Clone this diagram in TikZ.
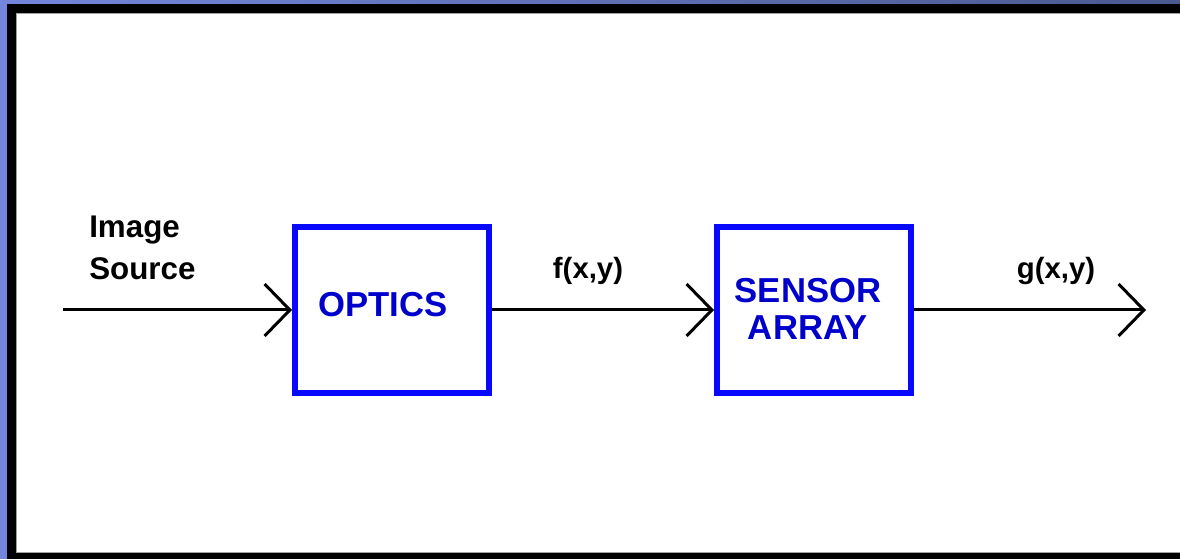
\documentclass[tikz,border=0pt]{standalone}
\usepackage{fontspec}
\setmainfont{Liberation Sans}
\usetikzlibrary{arrows.meta}
\definecolor{bgleft}{RGB}{116,134,220}
\definecolor{bgright}{RGB}{74,90,143}
\definecolor{boxblue}{RGB}{8,8,255}
\definecolor{txtblue}{RGB}{0,0,204}
\definecolor{edgegray}{RGB}{160,160,160}
\tikzset{
  blockbox/.style={draw=boxblue, line width=4.5pt, minimum width=145.5pt, minimum height=124.5pt, inner sep=0pt},
  blocktext/.style={text=txtblue, font=\fontsize{26}{27.75}\selectfont\bfseries, align=center, inner sep=0pt},
  sigtext/.style={font=\fontsize{22}{26}\selectfont\bfseries, inner sep=0pt},
  flow/.style={draw=black, line width=2.25pt, -{Straight Barb[length=19pt, width=39pt, line width=2.25pt]}},
}
\begin{document}
\begin{tikzpicture}[x=0.75pt, y=-0.75pt]
\useasboundingbox (0,0) rectangle (1180,559);
% background and frame
\fill[bgleft] (0,0) rectangle (1180,559);
\shade[left color=bgleft, right color=bgright, shading angle=90] (0,0) rectangle (1180,4);
\fill[black] (7,4) rectangle (1180,559);
\fill[edgegray] (16,13) rectangle (1180,553);
\fill[white] (17,14) rectangle (1180,552);
% blocks
\node[blockbox] (optics) at (392,310) {};
\node[blocktext] (opticslabel) at (383,305) {OPTICS};
\node[blockbox] (sensor) at (814,310) {};
\node[blocktext] (sensorlabel) at (808,309) {SENSOR\\ARRAY};
% signal labels
\node[sigtext, anchor=base west, align=left, font=\fontsize{23.5}{31.5}\selectfont\bfseries] (srclabel) at (89,280) {Image\\Source};
\node[sigtext, anchor=base] (flabel) at (588,279) {f(x,y)};
\node[sigtext, anchor=base] (glabel) at (1056,279) {g(x,y)};
% connectors
\coordinate (src) at (63,310);
\coordinate (out) at (1146,310);
\draw[flow] (src) -- (optics.west);
\draw[flow] (optics.east) -- (sensor.west);
\draw[flow] (sensor.east) -- (out);
\end{tikzpicture}
\end{document}
